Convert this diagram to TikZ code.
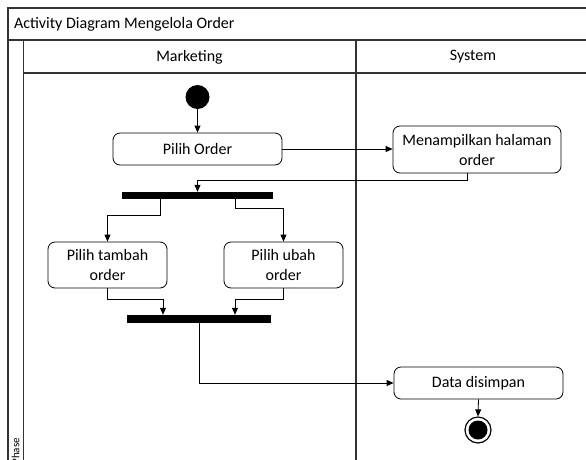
\documentclass[tikz,border=0pt]{standalone}
\usepackage{fontspec}
\setmainfont{Carlito}
\usetikzlibrary{arrows.meta}
\begin{document}
\begin{tikzpicture}[x=1pt,y=-1pt,
  frame/.style={line width=1.1pt,draw=black!80},
  action/.style={draw,line width=0.8pt,rounded corners=7pt,align=center,
    inner sep=0pt,font=\fontsize{16}{20}\selectfont},
  bar/.style={fill=black,inner sep=0pt},
  arr/.style={line width=0.8pt,-{Triangle[width=6pt,length=7pt]}},
  lbl/.style={font=\fontsize{16}{18}\selectfont}]
\useasboundingbox (0,0) rectangle (586,459);
\clip (0,0) rectangle (586,459);
\fill[white] (0,0) rectangle (586,459);

% swimlane frame
\draw[frame] (600,8) -- (8,8) -- (8,470);
\draw[frame] (8,40) -- (600,40);
\draw[frame] (23.5,40) -- (23.5,470);
\draw[frame] (23.5,73) -- (600,73);
\draw[frame] (356,40) -- (356,470);

\node[lbl,anchor=west] (title) at (10.5,24) {Activity Diagram Mengelola Order};
\node[lbl] (laneA) at (189.5,57) {Marketing};
\node[lbl] (laneB) at (473,57) {System};
\node[font=\fontsize{11}{12}\selectfont,rotate=90,anchor=west] (phase) at (15.5,468) {Phase};

% activity nodes
\node[circle,fill=black,minimum size=24pt,inner sep=0pt] (start) at (197.5,97) {};
\node[action,minimum width=169pt,minimum height=32pt] (pilih) at (197.5,149) {Pilih Order};
\node[action,minimum width=168pt,minimum height=47pt] (menu) at (477,149.5) {Menampilkan halaman\\order};
\node[bar,minimum width=151pt,minimum height=7pt] (fork) at (197.5,195.5) {};
\node[action,minimum width=119pt,minimum height=46pt] (tambah) at (107.5,265) {Pilih tambah\\order};
\node[action,minimum width=119pt,minimum height=46pt] (ubah) at (283.5,265) {Pilih ubah\\order};
\node[bar,minimum width=144pt,minimum height=8pt] (join) at (199,319) {};
\node[action,minimum width=169pt,minimum height=32pt] (simpan) at (478.5,383) {Data disimpan};
\node[circle,draw,line width=1.2pt,minimum size=26pt,inner sep=0pt] (end) at (478,430) {};
\fill (end.center) circle (9.5);

% control flow
\draw[arr] (start) -- (pilih);
\draw[arr] (pilih.east) -- (pilih.east -| menu.west);
\draw[arr] ([xshift=-10pt]menu.south) -- ++(0,7) -| (fork.north);
\draw[arr] ([xshift=-37.5pt]fork.south) -- ++(0,16) -| (tambah.north);
\draw[arr] ([xshift=37.5pt]fork.south) -- ++(0,9) -| (ubah.north);
\draw[arr] (tambah.south) -- ++(0,11) -| ([xshift=-36pt]join.north);
\draw[arr] (ubah.south) -- ++(0,11) -| ([xshift=36pt]join.north);
\draw[arr] (join.south) |- (simpan.west);
\draw[arr] (simpan.south) -- (end.north);
\end{tikzpicture}
\end{document}
